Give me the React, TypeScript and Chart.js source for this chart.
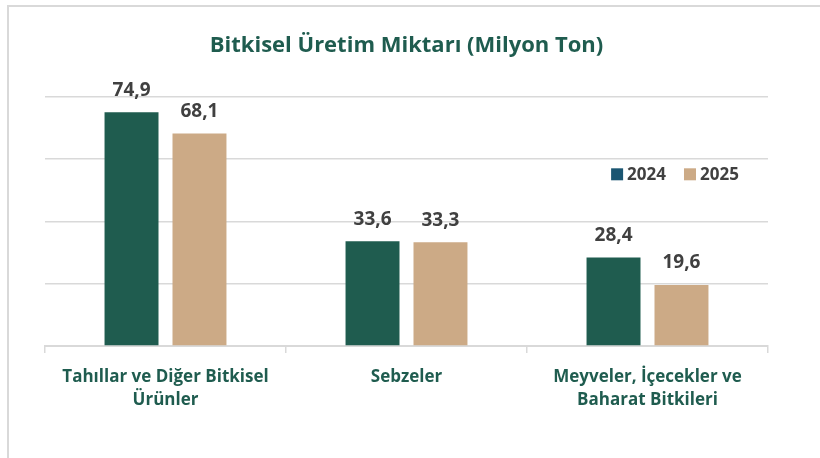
import React, { useEffect, useRef } from "react";
import { Chart, registerables } from "chart.js";

Chart.register(...registerables);

const categories: string[][] = [
  ["Tahıllar ve Diğer Bitkisel", "Ürünler"],
  ["Sebzeler"],
  ["Meyveler, İçecekler ve", "Baharat Bitkileri"],
];
const series2024: number[] = [74.9, 33.6, 28.4];
const series2025: number[] = [68.1, 33.3, 19.6];
const seriesLabels: string[] = ["2024", "2025"];
const titleText = "Bitkisel Üretim Miktarı (Milyon Ton)";

const GREEN = "#1F5C4F";
const TAN = "#CCAA86";
const LEGEND_2024 = "#1B5672";
const FONT = "'Open Sans', sans-serif";

const valueLabels = {
  id: "valueLabels",
  afterDatasetsDraw(chart: any) {
    const ctx = chart.ctx;
    ctx.save();
    ctx.font = `bold 19px ${FONT}`;
    ctx.fillStyle = "#404040";
    ctx.textAlign = "center";
    ctx.textBaseline = "middle";
    chart.data.datasets.forEach((ds: any, di: number) => {
      const meta = chart.getDatasetMeta(di);
      meta.data.forEach((bar: any, i: number) => {
        const v = ds.data[i] as number;
        ctx.fillText(v.toFixed(1).replace(".", ","), bar.x, bar.y - 22);
      });
    });
    ctx.restore();
  },
};

const insideLegend = {
  id: "insideLegend",
  afterDraw(chart: any) {
    const { ctx, chartArea } = chart;
    const w = chartArea.right - chartArea.left;
    const h = chartArea.bottom - chartArea.top;
    let x = chartArea.left + w * 0.783;
    const y = chartArea.top + h * 0.312;
    ctx.save();
    ctx.font = `bold 17px ${FONT}`;
    ctx.textBaseline = "middle";
    ctx.textAlign = "left";
    chart.data.datasets.forEach((ds: any, di: number) => {
      ctx.fillStyle = di === 0 ? LEGEND_2024 : ds.backgroundColor;
      ctx.fillRect(x, y - 6, 12, 12);
      ctx.fillStyle = "#404040";
      ctx.fillText(ds.label, x + 16, y + 1);
      x += 16 + ctx.measureText(ds.label).width + 18;
    });
    ctx.restore();
  },
};

export default function App() {
  const ref = useRef<HTMLCanvasElement | null>(null);
  useEffect(() => {
    if (!ref.current) return;
    const chart = new Chart(ref.current, {
      type: "bar",
      data: {
        labels: categories,
        datasets: [
          {
            label: seriesLabels[0],
            data: series2024,
            backgroundColor: GREEN,
            categoryPercentage: 0.564,
            barPercentage: 0.794,
          },
          {
            label: seriesLabels[1],
            data: series2025,
            backgroundColor: TAN,
            categoryPercentage: 0.564,
            barPercentage: 0.794,
          },
        ],
      },
      options: {
        animation: false,
        responsive: false,
        maintainAspectRatio: false,
        layout: { padding: { left: 45, right: 52, top: 0, bottom: 34 } },
        plugins: {
          legend: { display: false },
          tooltip: { enabled: false },
          title: {
            display: true,
            text: titleText,
            color: GREEN,
            font: { family: FONT, size: 22, weight: "bold", lineHeight: 1.2 },
            padding: { top: 33, bottom: 37 },
          },
        },
        scales: {
          x: {
            grid: {
              display: true,
              drawOnChartArea: false,
              offset: true,
              tickLength: 7,
              color: "#d9d9d9",
              lineWidth: 1.5,
            },
            border: { display: true, color: "#d9d9d9", width: 2 },
            ticks: {
              color: GREEN,
              padding: 12.5,
              font: { family: FONT, size: 17, weight: "bold", lineHeight: 1.35 },
              maxRotation: 0,
              autoSkip: false,
            },
          },
          y: {
            min: 0,
            max: 80,
            ticks: { display: false, stepSize: 20 },
            grid: { color: "#d9d9d9", lineWidth: 1.5, drawTicks: false },
            border: { display: false },
          },
        },
      },
      plugins: [valueLabels, insideLegend],
    });
    return () => chart.destroy();
  }, []);
  return (
    <div style={{ position: "fixed", left: 0, top: 0, width: 820, height: 458, background: "#fff" }}>
      <canvas ref={ref} width={820} height={458} style={{ position: "absolute", left: 0, top: 0 }} />
      <div
        style={{
          position: "absolute",
          left: 7,
          top: 5,
          width: 830,
          height: 470,
          borderLeft: "2px solid #d9d9d9",
          borderTop: "2px solid #d9d9d9",
          pointerEvents: "none",
        }}
      />
    </div>
  );
}
